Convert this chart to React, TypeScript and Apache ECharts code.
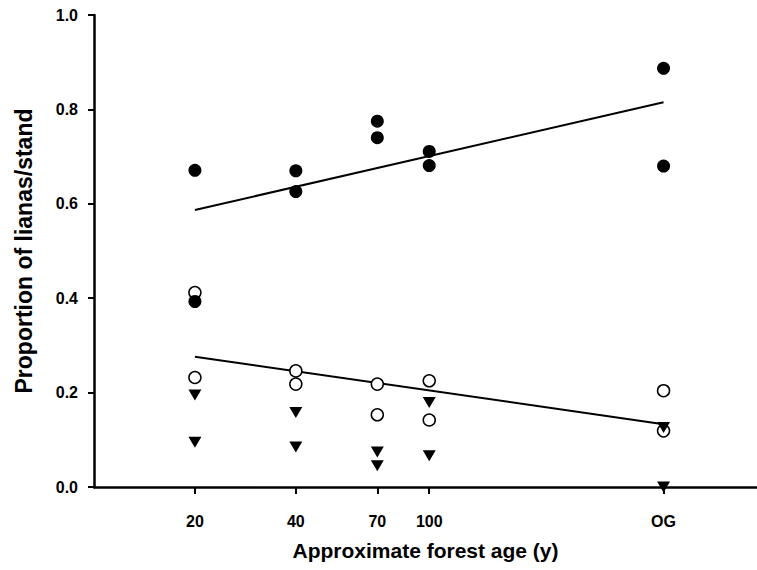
import React, { useEffect, useRef } from "react";
import * as echarts from "echarts";

// Forest age categories (OG = old growth, plotted at ~500 y on a log age axis)
const ageLabels = ["20", "40", "70", "100", "OG"];
const ageValues = [20, 40, 70, 100, 500];

// Filled circles
const filledAges = [20, 20, 40, 40, 70, 70, 100, 100, 500, 500];
const filledProps = [0.671, 0.393, 0.670, 0.626, 0.775, 0.740, 0.711, 0.681, 0.887, 0.680];

// Open circles
const openAges = [20, 20, 40, 40, 70, 70, 100, 100, 500, 500];
const openProps = [0.412, 0.232, 0.246, 0.218, 0.218, 0.153, 0.225, 0.142, 0.204, 0.119];

// Filled triangles
const triAges = [20, 20, 40, 40, 70, 70, 100, 100, 500, 500];
const triProps = [0.195, 0.095, 0.158, 0.085, 0.074, 0.045, 0.179, 0.066, 0.126, 0.0];

// Regression lines (end points)
const upperLineAges = [20, 500];
const upperLineProps = [0.587, 0.815];
const lowerLineAges = [20, 500];
const lowerLineProps = [0.276, 0.133];

// Y axis ticks
const yMin = 0;
const yMax = 1;
const yStep = 0.2;

const lg = (v: number) => Math.log10(v);
const pts = (xs: number[], ys: number[]) => xs.map((x, i) => [lg(x), ys[i]]);

const FONT = "'Liberation Sans', Arial, Helvetica, sans-serif";

export default function App() {
  const ref = useRef<HTMLDivElement>(null);
  useEffect(() => {
    if (!ref.current) return;
    const chart = echarts.init(ref.current, null, { renderer: "svg" });
    const tickVals = ageValues.map(lg);
    chart.setOption({
      animation: false,
      backgroundColor: "#ffffff",
      grid: { left: 94, right: 0, top: 15, bottom: 83, containLabel: false },
      xAxis: {
        type: "value",
        min: 1,
        max: lg(950),
        name: "Approximate forest age (y)",
        nameLocation: "middle",
        nameGap: 53,
        nameTextStyle: { fontFamily: FONT, fontWeight: "bold", fontSize: 21, color: "#000" },
        axisLine: { show: true, onZero: false, lineStyle: { color: "#000", width: 2.5 } },
        axisTick: { show: true, inside: false, length: 7, lineStyle: { color: "#000", width: 2 }, customValues: tickVals },
        axisLabel: {
          show: true,
          margin: 26,
          customValues: tickVals,
          fontFamily: FONT,
          fontWeight: "bold",
          fontSize: 16,
          color: "#000",
          formatter: (v: number) => {
            let best = 0;
            let bd = Infinity;
            tickVals.forEach((t, i) => {
              const d = Math.abs(t - v);
              if (d < bd) { bd = d; best = i; }
            });
            return ageLabels[best];
          },
        },
        splitLine: { show: false },
      },
      yAxis: {
        type: "value",
        min: yMin,
        max: yMax,
        interval: yStep,
        name: "Proportion of lianas/stand",
        nameLocation: "middle",
        nameGap: 59,
        nameTextStyle: { fontFamily: FONT, fontWeight: "bold", fontSize: 23, color: "#000" },
        axisLine: { show: true, lineStyle: { color: "#000", width: 2.5 } },
        axisTick: { show: true, inside: false, length: 6, lineStyle: { color: "#000", width: 2 } },
        axisLabel: {
          margin: 16,
          fontFamily: FONT,
          fontWeight: "bold",
          fontSize: 16,
          color: "#000",
          formatter: (v: number) => v.toFixed(1),
        },
        splitLine: { show: false },
      },
      series: [
        {
          type: "line",
          data: pts(upperLineAges, upperLineProps),
          showSymbol: false,
          symbol: "none",
          lineStyle: { color: "#000", width: 2 },
          z: 1,
        },
        {
          type: "line",
          data: pts(lowerLineAges, lowerLineProps),
          showSymbol: false,
          symbol: "none",
          lineStyle: { color: "#000", width: 2 },
          z: 1,
        },
        {
          type: "scatter",
          data: pts(openAges, openProps),
          symbol: "circle",
          symbolSize: 12,
          itemStyle: { color: "#fff", borderColor: "#000", borderWidth: 1.5, opacity: 1 },
          z: 2,
        },
        {
          type: "scatter",
          data: pts(filledAges, filledProps),
          symbol: "circle",
          symbolSize: 13,
          itemStyle: { color: "#000", opacity: 1 },
          z: 3,
        },
        {
          type: "scatter",
          data: pts(triAges, triProps),
          symbol: "triangle",
          symbolRotate: 180,
          symbolSize: [13, 11],
          itemStyle: { color: "#000", opacity: 1 },
          z: 4,
        },
      ],
    });
    return () => chart.dispose();
  }, []);
  return (
    <div
      ref={ref}
      style={{ position: "absolute", left: 0, top: 0, width: 757, height: 570, background: "#fff" }}
    />
  );
}
